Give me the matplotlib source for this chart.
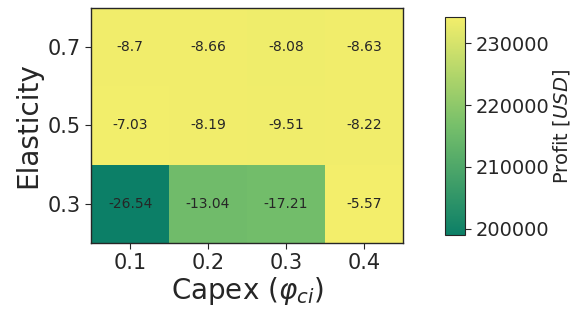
import numpy as np
import matplotlib
matplotlib.use("Agg")
import matplotlib.pyplot as plt
from matplotlib.colors import LinearSegmentedColormap

capex = [0.1, 0.2, 0.3, 0.4]
elasticity = [0.3, 0.5, 0.7]

# profit per cell (rows follow elasticity, columns follow capex)
profit_03 = [199000, 215600, 216000, 234100]
profit_05 = [234000, 233900, 233700, 233900]
profit_07 = [233800, 233900, 233600, 233900]

# relative change (%) written in each cell
change_03 = [-26.54, -13.04, -17.21, -5.57]
change_05 = [-7.03, -8.19, -9.51, -8.22]
change_07 = [-8.7, -8.66, -8.08, -8.63]

profit = np.array([profit_03, profit_05, profit_07])
change = [change_03, change_05, change_07]

text_col = "#262626"
cmap = LinearSegmentedColormap.from_list(
    "profit", ["#0c7f67", "#76bf6a", "#f3ee6b"])

fig = plt.figure(figsize=(5.73, 3.09), dpi=100)
ax = fig.add_axes([0.159, 0.214, 0.544, 0.760])
cax = fig.add_axes([0.777, 0.239, 0.035, 0.706])

x_edges = np.array([0.05, 0.15, 0.25, 0.35, 0.45])
y_edges = np.array([0.2, 0.4, 0.6, 0.8])
mesh = ax.pcolormesh(x_edges, y_edges, profit, cmap=cmap,
                     vmin=199000, vmax=234200)

for i, e in enumerate(elasticity):
    for j, c in enumerate(capex):
        ax.text(c, e, str(change[i][j]), ha="center", va="center",
                fontsize=10, color=text_col)

ax.set_xticks(capex)
ax.set_yticks(elasticity)
ax.set_xticklabels([str(c) for c in capex])
ax.set_yticklabels([str(e) for e in elasticity])
ax.tick_params(labelsize=15, colors=text_col, length=4, width=0.8)
ax.set_xlabel(r"Capex ($\varphi_{ci}$)", fontsize=20, color=text_col,
              labelpad=1)
ax.set_ylabel("Elasticity", fontsize=20, color=text_col)
for s in ax.spines.values():
    s.set_color(text_col)
    s.set_linewidth(1.0)

cb = fig.colorbar(mesh, cax=cax)
cb.set_ticks([200000, 210000, 220000, 230000])
cb.ax.tick_params(labelsize=14, colors=text_col, length=4, width=0.8)
cb.set_label(r"Profit [$USD$]", fontsize=14, color=text_col, labelpad=1)
cb.outline.set_edgecolor(text_col)

fig.savefig("out.png", dpi=100)
